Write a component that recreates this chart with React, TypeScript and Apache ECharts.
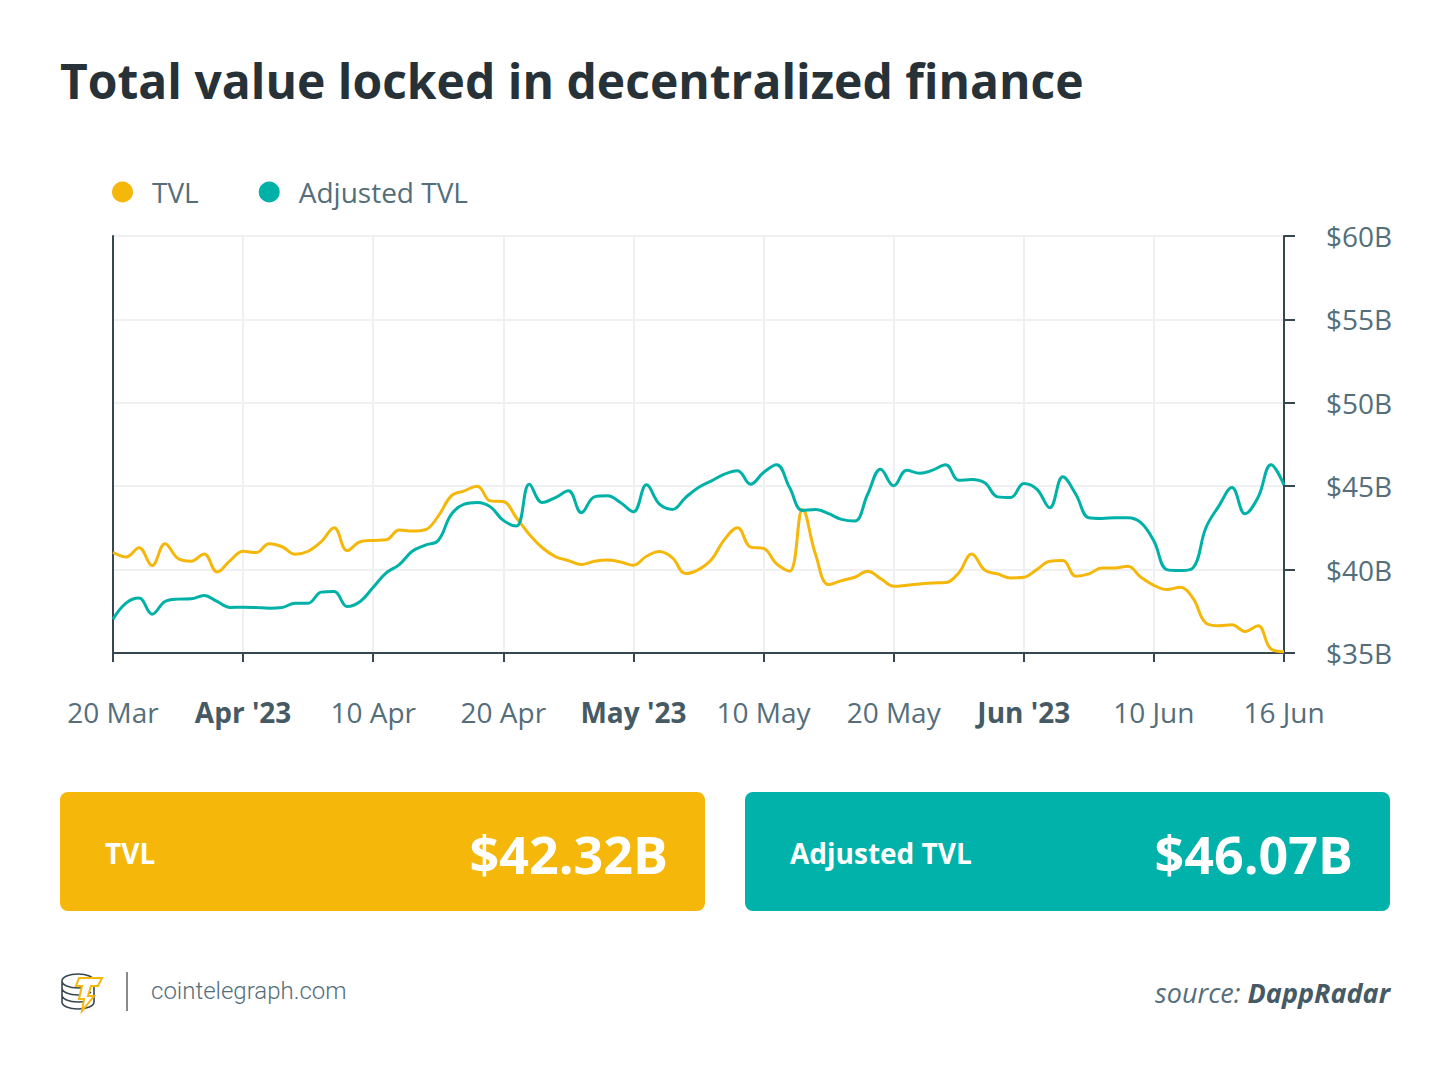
import React, { useEffect, useRef } from "react";
import * as echarts from "echarts";

const tickLabels = ["20 Mar", "Apr '23", "10 Apr", "20 Apr", "May '23", "10 May", "20 May", "Jun '23", "10 Jun", "16 Jun"];
const boldTicks = ["Apr '23", "May '23", "Jun '23"];
const pointsPerTick = 10;

const tvl = [
  41.04, 40.76, 41.31, 40.24, 41.55, 40.66, 40.5, 40.94, 39.86, 40.54,
  41.1, 41.02, 41.55, 41.37, 40.92, 41.1, 41.67, 42.51, 41.14, 41.67,
  41.75, 41.79, 42.38, 42.31, 42.39, 43.21, 44.42, 44.72, 45.0, 44.12,
  44.08, 43.11, 42.11, 41.31, 40.78, 40.54, 40.3, 40.5, 40.58, 40.46,
  40.26, 40.8, 41.08, 40.7, 39.76, 40.0, 40.6, 41.81, 42.51, 41.35,
  41.27, 40.34, 39.9, 43.61, 40.9, 39.1, 39.34, 39.54, 39.9, 39.46,
  39.0, 39.06, 39.14, 39.2, 39.22, 39.8, 40.94, 39.97, 39.74, 39.5,
  39.54, 40.0, 40.5, 40.54, 39.6, 39.74, 40.1, 40.1, 40.2, 39.54,
  39.06, 38.8, 38.94, 38.29, 36.79, 36.63, 36.69, 36.29, 36.63, 35.24,
  35.08,
];

const adjustedTvl = [
  37.03, 37.99, 38.29, 37.33, 38.09, 38.23, 38.25, 38.45, 38.09, 37.73,
  37.75, 37.73, 37.69, 37.73, 37.99, 37.99, 38.65, 38.69, 37.79, 38.09,
  38.94, 39.8, 40.3, 41.1, 41.47, 41.75, 43.31, 43.92, 44.02, 43.76,
  42.95, 42.61, 45.12, 44.02, 44.32, 44.72, 43.41, 44.36, 44.42, 44.02,
  43.47, 45.08, 43.92, 43.61, 44.32, 44.92, 45.32, 45.72, 45.92, 45.12,
  45.82, 46.29, 44.92, 43.55, 43.61, 43.35, 43.01, 42.91, 44.52, 46.02,
  45.02, 45.96, 45.78, 45.96, 46.29, 45.36, 45.4, 45.2, 44.36, 44.32,
  45.16, 44.82, 43.71, 45.56, 44.52, 43.11, 43.07, 43.11, 43.11, 42.81,
  41.71, 40.0, 39.94, 40.1, 42.51, 43.82, 44.92, 43.35, 44.32, 46.29,
  45.08,
];

const seriesNames = ["TVL", "Adjusted TVL"];
const latestValues = ["$42.32B", "$46.07B"];
const yMin = 35;
const yMax = 60;
const yStep = 5;

const YELLOW = "#F5B70A";
const TEAL = "#00B1A8";
const FONT = "'Open Sans', 'Noto Sans', sans-serif";

const coinPath =
  "M2 9 C2 5 9 2 18 2 C27 2 34 5 34 9 C34 13 27 16 18 16 C9 16 2 13 2 9 Z " +
  "M2 9 L2 30 C2 34 9 37 18 37 C27 37 34 34 34 30 L34 9 " +
  "M2 16 C2 20 9 23 18 23 C24 23 29 22 31 20 " +
  "M2 23 C2 27 9 30 18 30 C22 30 25 29.5 27 29";
const boltPath =
  "M21 8 L44 8 L40 16 L33 16 L30 26 L36 26 L24 41 L26 29 L21 29 L24 16 L18 16 Z";

let shapesRegistered = false;
function registerShapes() {
  if (shapesRegistered) return;
  echarts.graphic.registerShape("coinstack", echarts.graphic.extendPath(coinPath, {}) as any);
  echarts.graphic.registerShape("bolt", echarts.graphic.extendPath(boltPath, {}) as any);
  shapesRegistered = true;
}

export default function App() {
  const ref = useRef<HTMLDivElement>(null);

  useEffect(() => {
    if (!ref.current) return;
    registerShapes();
    const chart = echarts.init(ref.current, null, { renderer: "svg" });
    const total = (tickLabels.length - 1) * pointsPerTick + 1;
    const categories = Array.from({ length: total }, (_, i) => String(i));
    const isTick = (i: number) => i % pointsPerTick === 0;

    chart.setOption({
      animation: false,
      backgroundColor: "#ffffff",
      textStyle: { fontFamily: FONT },
      title: {
        text: "Total value locked in decentralized finance",
        left: 55,
        top: 51,
        textStyle: { fontFamily: FONT, fontSize: 48, fontWeight: "bold", color: "#263238" },
      },
      legend: {
        left: 107,
        top: 173,
        icon: "circle",
        itemWidth: 21,
        itemHeight: 21,
        itemGap: 60,
        data: seriesNames,
        textStyle: { fontFamily: FONT, fontSize: 28, color: "#546E7A", padding: [0, 0, 0, 14] },
      },
      grid: { left: 113, right: 166, top: 236, bottom: 419, containLabel: false },
      xAxis: {
        type: "category",
        data: categories,
        boundaryGap: false,
        axisLine: { show: true, lineStyle: { color: "#37474F", width: 2 } },
        axisTick: { show: true, length: 9, interval: (i: number) => isTick(i), lineStyle: { color: "#37474F", width: 2 } },
        splitLine: { show: true, interval: (i: number) => isTick(i), lineStyle: { color: "#EEF0F1", width: 2 } },
        axisLabel: {
          interval: (i: number) => isTick(i),
          margin: 45,
          fontFamily: FONT,
          fontSize: 28,
          color: "#546E7A",
          formatter: (_v: string, i: number) => {
            const lab = tickLabels[Math.round(i / pointsPerTick)] || "";
            return boldTicks.includes(lab) ? "{b|" + lab + "}" : lab;
          },
          rich: { b: { fontFamily: FONT, fontSize: 28, fontWeight: "bold", color: "#455A64" } },
        },
      },
      yAxis: [
        {
          type: "value",
          position: "right",
          min: yMin,
          max: yMax,
          interval: yStep,
          axisLine: { show: true, lineStyle: { color: "#37474F", width: 2 } },
          axisTick: { show: true, length: 11, lineStyle: { color: "#37474F", width: 2 } },
          splitLine: { show: true, lineStyle: { color: "#EEF0F1", width: 2 } },
          axisLabel: {
            margin: 42,
            fontFamily: FONT,
            fontSize: 28,
            color: "#546E7A",
            formatter: (v: number) => "$" + v + "B",
          },
        },
        {
          type: "value",
          position: "left",
          min: yMin,
          max: yMax,
          interval: yStep,
          axisLine: { show: true, lineStyle: { color: "#37474F", width: 2 } },
          axisTick: { show: false },
          splitLine: { show: false },
          axisLabel: { show: false },
        },
      ],
      series: [
        {
          name: seriesNames[0],
          type: "line",
          data: tvl,
          yAxisIndex: 0,
          smooth: 0.4,
          showSymbol: false,
          symbol: "none",
          itemStyle: { color: YELLOW },
          lineStyle: { color: YELLOW, width: 3 },
          z: 3,
        },
        {
          name: seriesNames[1],
          type: "line",
          data: adjustedTvl,
          yAxisIndex: 0,
          smooth: 0.4,
          showSymbol: false,
          symbol: "none",
          itemStyle: { color: TEAL },
          lineStyle: { color: TEAL, width: 3 },
          z: 4,
        },
      ],
      graphic: [
        { type: "rect", shape: { x: 60, y: 792, width: 645, height: 119, r: 8 }, style: { fill: "#F4B70A" } },
        { type: "rect", shape: { x: 745, y: 792, width: 645, height: 119, r: 8 }, style: { fill: "#00B2AA" } },
        {
          type: "text", x: 105, y: 853,
          style: { text: seriesNames[0], fill: "#ffffff", font: "bold 28px " + FONT, textAlign: "left", textVerticalAlign: "middle" },
        },
        {
          type: "text", x: 668, y: 853,
          style: { text: latestValues[0], fill: "#ffffff", font: "bold 52px " + FONT, textAlign: "right", textVerticalAlign: "middle" },
        },
        {
          type: "text", x: 790, y: 853,
          style: { text: seriesNames[1], fill: "#ffffff", font: "bold 28px " + FONT, textAlign: "left", textVerticalAlign: "middle" },
        },
        {
          type: "text", x: 1353, y: 853,
          style: { text: latestValues[1], fill: "#ffffff", font: "bold 52px " + FONT, textAlign: "right", textVerticalAlign: "middle" },
        },
        {
          type: "coinstack", x: 60, y: 972, scaleX: 1, scaleY: 1,
          style: { fill: "none", stroke: "#37474F", lineWidth: 1.6 },
        },
        {
          type: "bolt", x: 58, y: 970, scaleX: 1, scaleY: 1,
          style: { fill: "#ffffff", stroke: YELLOW, lineWidth: 2 },
        },
        { type: "line", shape: { x1: 127, y1: 972, x2: 127, y2: 1011 }, style: { stroke: "#8A8A8A", lineWidth: 2 } },
        {
          type: "text", x: 151, y: 991,
          style: { text: "cointelegraph.com", fill: "#546E7A", font: "300 24px Roboto, " + FONT, textAlign: "left", textVerticalAlign: "middle" },
        },
        {
          type: "text", x: 1390, y: 992,
          style: {
            text: "{a|source: }{b|DappRadar}",
            textAlign: "right",
            textVerticalAlign: "middle",
            rich: {
              a: { fontFamily: FONT, fontSize: 27, fontStyle: "italic", fill: "#546E7A" },
              b: { fontFamily: FONT, fontSize: 27, fontStyle: "italic", fontWeight: "bold", fill: "#455A64" },
            },
          },
        },
      ],
    });

    return () => chart.dispose();
  }, []);

  return <div ref={ref} style={{ position: "absolute", left: 0, top: 0, width: 1450, height: 1072 }} />;
}
